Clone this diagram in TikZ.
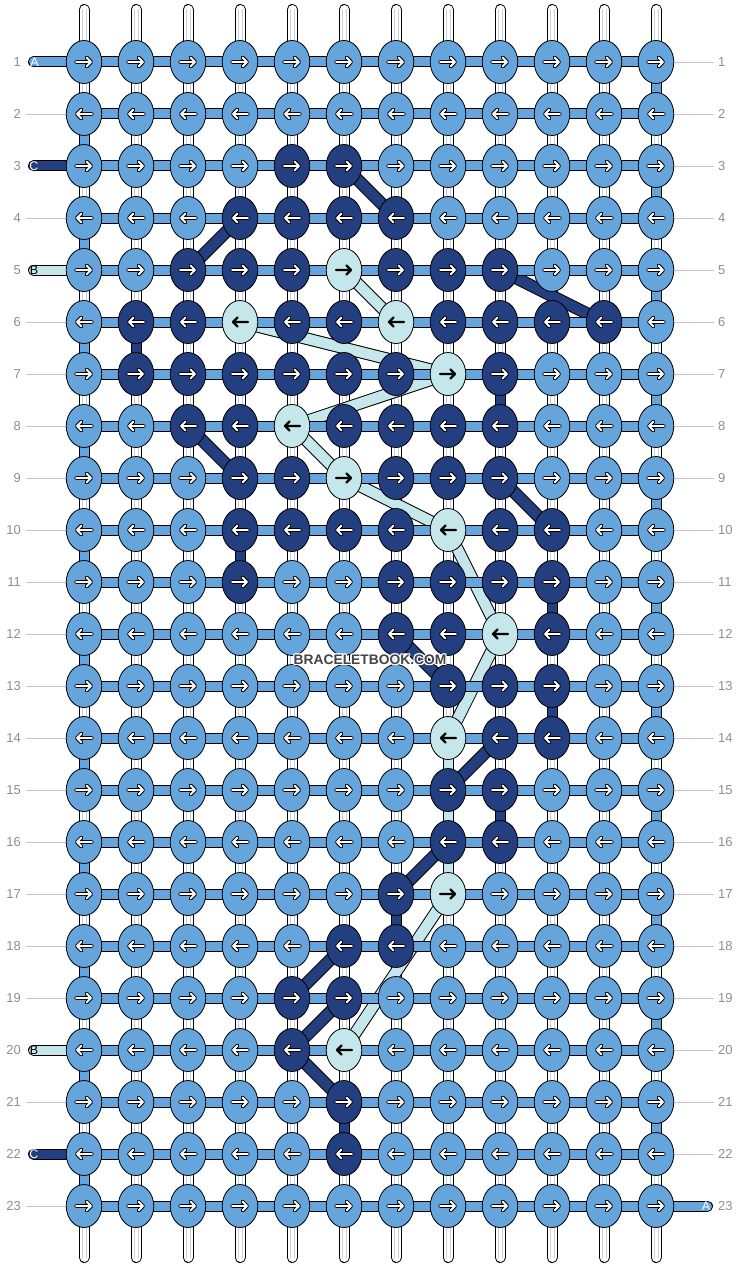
\documentclass[tikz,border=0pt]{standalone}
\usepackage{fontspec}
\setmainfont{Liberation Sans}
\usetikzlibrary{shapes.geometric}
\definecolor{colA}{HTML}{65A5DB}
\definecolor{colB}{HTML}{C5E6EA}
\definecolor{colC}{HTML}{233F80}
\definecolor{numgray}{HTML}{8E8E8E}
\definecolor{linegray}{HTML}{C4C4C4}
\definecolor{wmgray}{HTML}{444444}
\definecolor{warpgray}{HTML}{CFCFCF}
\expandafter\def\csname kr1\endcsname{A,A,A,A,A,A,A,A,A,A,A,A}
\expandafter\def\csname kr2\endcsname{A,A,A,A,A,A,A,A,A,A,A,A}
\expandafter\def\csname kr3\endcsname{A,A,A,A,C,C,A,A,A,A,A,A}
\expandafter\def\csname kr4\endcsname{A,A,A,C,C,C,C,A,A,A,A,A}
\expandafter\def\csname kr5\endcsname{A,A,C,C,C,B,C,C,C,A,A,A}
\expandafter\def\csname kr6\endcsname{A,C,C,B,C,C,B,C,C,C,C,A}
\expandafter\def\csname kr7\endcsname{A,C,C,C,C,C,C,B,C,A,A,A}
\expandafter\def\csname kr8\endcsname{A,A,C,C,B,C,C,C,C,A,A,A}
\expandafter\def\csname kr9\endcsname{A,A,A,C,C,B,C,C,C,A,A,A}
\expandafter\def\csname kr10\endcsname{A,A,A,C,C,C,C,B,C,C,A,A}
\expandafter\def\csname kr11\endcsname{A,A,A,C,A,A,C,C,C,C,A,A}
\expandafter\def\csname kr12\endcsname{A,A,A,A,A,A,C,C,B,C,A,A}
\expandafter\def\csname kr13\endcsname{A,A,A,A,A,A,A,C,C,C,A,A}
\expandafter\def\csname kr14\endcsname{A,A,A,A,A,A,A,B,C,C,A,A}
\expandafter\def\csname kr15\endcsname{A,A,A,A,A,A,A,C,C,A,A,A}
\expandafter\def\csname kr16\endcsname{A,A,A,A,A,A,A,C,C,A,A,A}
\expandafter\def\csname kr17\endcsname{A,A,A,A,A,A,C,B,A,A,A,A}
\expandafter\def\csname kr18\endcsname{A,A,A,A,A,C,C,A,A,A,A,A}
\expandafter\def\csname kr19\endcsname{A,A,A,A,C,C,A,A,A,A,A,A}
\expandafter\def\csname kr20\endcsname{A,A,A,A,C,B,A,A,A,A,A,A}
\expandafter\def\csname kr21\endcsname{A,A,A,A,A,C,A,A,A,A,A,A}
\expandafter\def\csname kr22\endcsname{A,A,A,A,A,C,A,A,A,A,A,A}
\expandafter\def\csname kr23\endcsname{A,A,A,A,A,A,A,A,A,A,A,A}
\newcommand\diagstrand[3]{\draw[line width=12.5pt, black] (#2) -- (#3); \draw[line width=10.5pt, #1] (#2) -- (#3);}
\newcommand\vstrand[3]{\draw[line width=11pt, black] (#2) -- (#3); \draw[line width=9pt, #1] (#2) -- (#3);}
\begin{document}
\begin{tikzpicture}[x=1pt,y=-1pt,
  knot/.style={ellipse, draw=black, line width=0.8pt, minimum width=35.5pt, minimum height=43pt, inner sep=0pt},
  arr-A/.style={draw=white, line width=1.9pt, line cap=round, line join=round, preaction={draw=black, line width=3.9pt, line cap=round, line join=round}},
  arr-C/.style={arr-A},
  arr-B/.style={draw=black, line width=2.4pt, line cap=round, line join=round},
  num/.style={text=numgray, font=\fontsize{13}{15}\selectfont, inner sep=0pt},
  pilltext/.style={font=\fontsize{12.5}{14}\selectfont, inner sep=0pt},
  wm/.style={font=\bfseries\fontsize{13.8}{15}\selectfont, inner sep=0pt},
]
\useasboundingbox (0,0) rectangle (740,1268);
% grid coordinates
\foreach \r in {1,...,23}{
  \foreach \c in {1,...,12}{
    \coordinate (p-\r-\c) at ({84+52*(\c-1)},{62+52*(\r-1)});
  }
}
% warp strings
\foreach \c in {1,...,12}{
  \coordinate (wt-\c) at ({84+52*(\c-1)},9.5);
  \coordinate (wb-\c) at ({84+52*(\c-1)},1257.5);
  \draw[line cap=round, line width=11pt, black] (wt-\c) -- (wb-\c);
  \draw[line cap=round, line width=9pt, white] (wt-\c) -- (wb-\c);
  \draw[line width=5pt, warpgray] (wt-\c) -- (wb-\c);
  \draw[line width=3pt, white] (wt-\c) -- (wb-\c);
}
% C strand
\foreach \a/\b in {3-6/4-7, 4-4/5-3, 5-9/6-11, 8-3/9-4, 9-9/10-10, 12-7/13-8, 14-9/15-8, 16-8/17-7, 18-6/19-5, 19-6/20-5, 20-5/21-6}{\diagstrand{colC}{p-\a}{p-\b}}
\foreach \a/\b in {6-2/7-2, 7-9/8-9, 10-4/11-4, 11-10/12-10, 13-10/14-10, 15-9/16-9, 17-7/18-7, 21-6/22-6}{\vstrand{colC}{p-\a}{p-\b}}
% B strand
\foreach \a/\b in {5-6/6-7, 6-4/7-8, 7-8/8-5, 8-5/9-6, 9-6/10-8, 10-8/12-9, 12-9/14-8, 17-8/20-6}{\diagstrand{colB}{p-\a}{p-\b}}
\vstrand{colB}{p-14-8}{p-17-8}
% A turns at the edges
\foreach \r in {1,...,22}{
  \pgfmathtruncatemacro\rn{\r+1}
  \pgfmathtruncatemacro\ec{mod(\r,2)==1 ? 12 : 1}
  \vstrand{colA}{p-\r-\ec}{p-\rn-\ec}
}
% label lines
\foreach \r in {2,4,6,7,8,9,10,11,12,13,14,15,16,17,18,19,21,23}{
  \coordinate (ll-\r) at (26,{62+52*(\r-1)});
  \draw[linegray, line width=0.9pt] (ll-\r) -- (p-\r-1);
}
\foreach \r in {1,...,22}{
  \coordinate (lr-\r) at (714,{62+52*(\r-1)});
  \draw[linegray, line width=0.9pt] (p-\r-12) -- (lr-\r);
}
% pills
\foreach \r/\cl in {1/colA, 3/colC, 5/colB, 20/colB, 22/colC}{
  \coordinate (lp-\r) at (33.5,{62+52*(\r-1)});
  \draw[line cap=round, line width=11pt, black] (lp-\r) -- (p-\r-1);
  \draw[line cap=round, line width=9pt, \cl] (lp-\r) -- (p-\r-1);
}
\coordinate (rp-23) at (707.5,1206);
\draw[line cap=round, line width=11pt, black] (p-23-12) -- (rp-23);
\draw[line cap=round, line width=9pt, colA] (p-23-12) -- (rp-23);
% horizontal weft
\foreach \r in {1,...,23}{
  \draw[line width=11pt, black] (p-\r-1) -- (p-\r-12);
  \draw[line width=9pt, colA] (p-\r-1) -- (p-\r-12);
}
% knots
\foreach \r in {1,...,23}{
  \edef\rowlist{\csname kr\r\endcsname}
  \ifodd\r \def\dr{1}\else\def\dr{-1}\fi
  \foreach \k [count=\c] in \rowlist {
    \node[knot, fill=col\k] (k-\r-\c) at (p-\r-\c) {};
    \draw[arr-\k, shift={(p-\r-\c)}, xscale=\dr] (-8,0) -- (7,0) (2.5,-4.5) -- (7,0) -- (2.5,4.5);
  }
}
% numbers
\foreach \r in {1,...,23}{
  \node[num, anchor=base east] (nl-\r) at (21,{66.5+52*(\r-1)}) {\r};
  \node[num, anchor=base west] (nr-\r) at (718,{66.5+52*(\r-1)}) {\r};
}
% pill letters
\node[pilltext, text=white] (la-1) at (34.5,62.5) {A};
\node[pilltext, text=white] (la-3) at (34,166.5) {C};
\node[pilltext, text=black] (la-5) at (34,270.5) {B};
\node[pilltext, text=black] (la-20) at (34,1050.5) {B};
\node[pilltext, text=white] (la-22) at (34,1154.5) {C};
\node[pilltext, text=white] (ra-23) at (706,1206.5) {A};
% watermark
\foreach \dx/\dy [count=\i] in {-1/-1,-1/0,-1/1,0/-1,0/1,1/-1,1/0,1/1}{
  \node[wm, text=white] (wmh-\i) at ({370+\dx},{660+\dy}) {BRACELETBOOK.COM};
}
\node[wm, text=wmgray] (wm) at (370,660) {BRACELETBOOK.COM};
\end{tikzpicture}
\end{document}
